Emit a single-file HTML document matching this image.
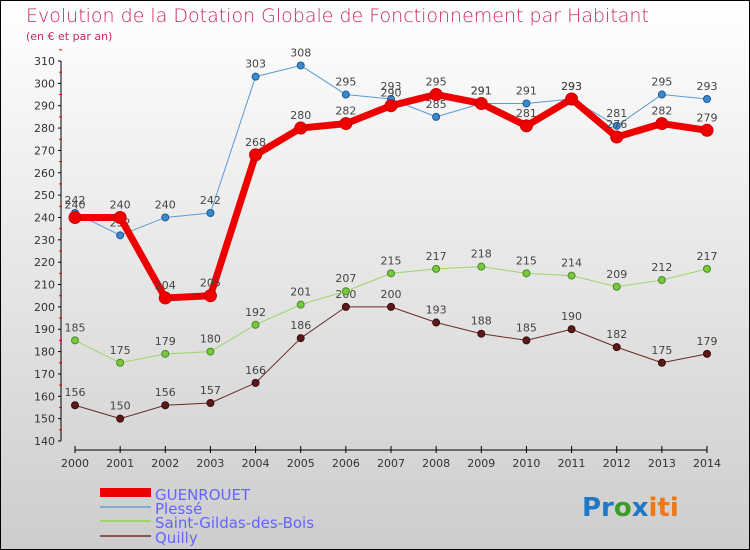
<!DOCTYPE html>
<html><head><meta charset="utf-8"><style>
body{margin:0;width:750px;height:550px;overflow:hidden;font-family:"DejaVu Sans","Liberation Sans",sans-serif}
svg{display:block}
</style></head><body>
<svg id="c" width="750" height="550" xmlns="http://www.w3.org/2000/svg">
<defs><linearGradient id="bg" x1="0" y1="0" x2="0" y2="1"><stop offset="0" stop-color="#ffffff"/><stop offset="1" stop-color="#cdcdcd"/></linearGradient></defs>
<rect x="0.5" y="0.5" width="749" height="549" fill="url(#bg)" stroke="#000"/>
<text x="26" y="22" font-size="19" fill="#c8285a" font-weight="200">Evolution de la Dotation Globale de Fonctionnement par Habitant</text>
<text x="26" y="40" font-size="11" fill="#c8285a">(en € et par an)</text>
<g id="axes"></g><g id="series"></g>
<g>
<rect x="100" y="488" width="51" height="9" fill="#e00"/>
<text x="155" y="500" font-size="15" fill="#6464ff">GUENROUET</text>
<rect x="100" y="506" width="51" height="2" fill="#7aaed6"/>
<text x="155" y="514" font-size="15" fill="#6464ff">Plessé</text>
<rect x="100" y="520" width="51" height="2" fill="#9ad66a"/>
<text x="155" y="528" font-size="15" fill="#6464ff">Saint-Gildas-des-Bois</text>
<rect x="100" y="535" width="51" height="2" fill="#8a5555"/>
<text x="155" y="543" font-size="15" fill="#6464ff">Quilly</text>
</g>
<text x="582" y="516" font-size="26" font-weight="bold"><tspan fill="#1e78c8">Pr</tspan><tspan fill="#3a9a2a">o</tspan><tspan fill="#1e78c8">x</tspan><tspan fill="#f07814">iti</tspan></text>
</svg>
<script>
const years=[2000,2001,2002,2003,2004,2005,2006,2007,2008,2009,2010,2011,2012,2013,2014];
const guenrouet=[240,240,204,205,268,280,282,290,295,291,281,293,276,282,279];
const plesse=[242,232,240,242,303,308,295,293,285,291,291,293,281,295,293];
const saintGildas=[185,175,179,180,192,201,207,215,217,218,215,214,209,212,217];
const quilly=[156,150,156,157,166,186,200,200,193,188,185,190,182,175,179];
const yTicks=[140,150,160,170,180,190,200,210,220,230,240,250,260,270,280,290,300,310];
const NS="http://www.w3.org/2000/svg";
const X=i=>75+i*(707-75)/(years.length-1);
const Y=v=>441-(v-140)*(380/170);
function mk(t,a,p){const e=document.createElementNS(NS,t);for(const k in a)e.setAttribute(k,a[k]);p.appendChild(e);return e;}
const ax=document.getElementById('axes');
let yl=mk('line',{x1:61,y1:61,x2:61,y2:441,stroke:'#000'},ax);


yTicks.forEach(v=>{
 mk('line',{x1:58,x2:61,y1:Y(v),y2:Y(v),stroke:'#000'},ax);
 mk('line',{x1:59,x2:62,y1:Y(v+5),y2:Y(v+5),stroke:'#e00'},ax);
 const t=mk('text',{x:55,y:Y(v)+4,'font-size':11,fill:'#333','text-anchor':'end'},ax);t.textContent=v;
 
 
});
let xl=mk('line',{x1:75,y1:450,x2:707,y2:450,stroke:'#000'},ax);


years.forEach((y,i)=>{
 mk('line',{x1:X(i),x2:X(i),y1:446,y2:453,stroke:'#000'},ax);
 const t=mk('text',{x:X(i),y:467,'font-size':11,fill:'#333','text-anchor':'middle'},ax);t.textContent=y;
 
 
});
const sg=document.getElementById('series');
function series(d,name,col,w,r,dot,dotStroke){
 const g=mk('g',{},sg);
 
 
 const l=mk('polyline',{points:d.map((v,i)=>X(i)+','+Y(v)).join(' '),fill:'none',stroke:col,'stroke-width':w,'stroke-linejoin':'round'},g);
 
 
 d.forEach((v,i)=>{
  const c=mk('circle',{cx:X(i),cy:Y(v),r:r,fill:dot,stroke:dotStroke,'stroke-width':1},g);
  
  
  const t=mk('text',{x:X(i),y:Y(v)-9,'font-size':11,fill:'#444','text-anchor':'middle'},g);t.textContent=v;
  
  
 });
}
series(quilly,'quilly','#6a2a2a',1,3.5,'#5a1a1a','#3a0a0a');
series(saintGildas,'saint-gildas','#9ad66a',1,3.5,'#7ac83a','#4a8a2a');
series(plesse,'plesse','#5a9ad6',1,3.5,'#3a8acc','#1a5a9a');
series(guenrouet,'guenrouet','#ee0000',7,6,'#ee0000','#cc0000');
</script>
</body></html>
